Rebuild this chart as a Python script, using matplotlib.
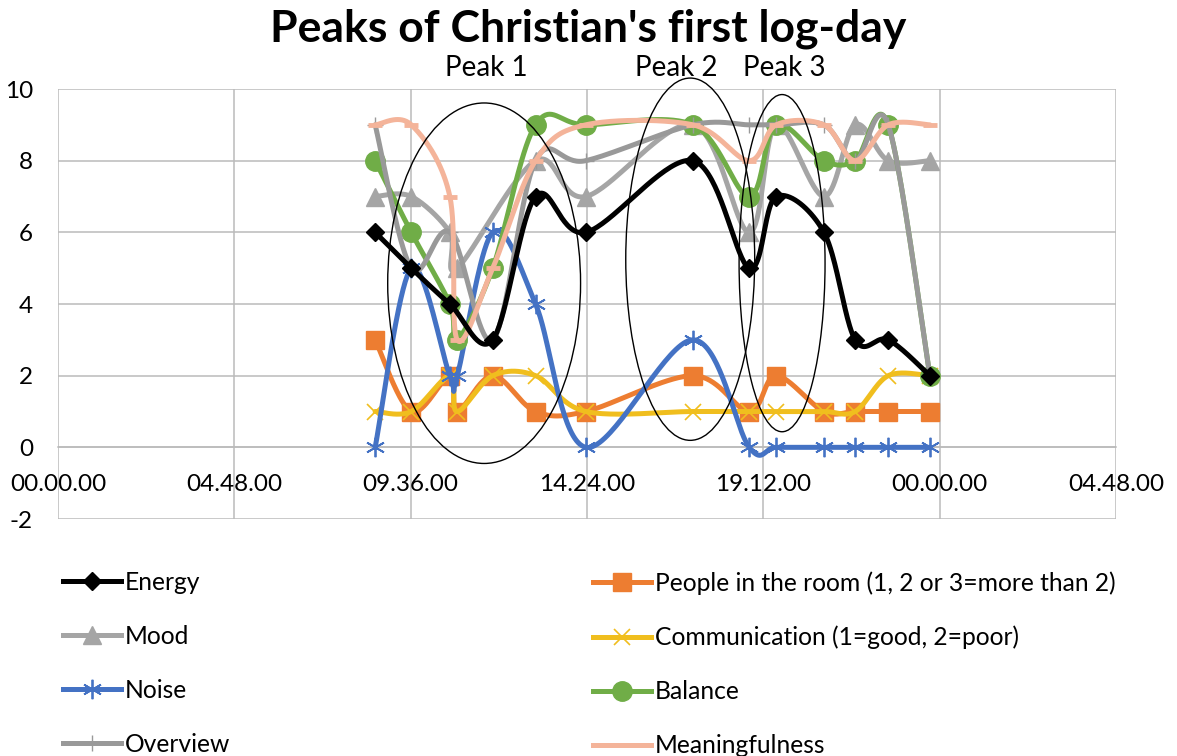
import numpy as np
import matplotlib
matplotlib.use("Agg")
import matplotlib.pyplot as plt
from matplotlib.lines import Line2D
from matplotlib.patches import Ellipse

plt.rcParams['font.family'] = ['Lato', 'DejaVu Sans']
plt.rcParams['axes.unicode_minus'] = False

# Tidspunkter for loggingen (tt:mm)
times = ["08:38", "09:37", "10:40", "10:52", "11:50", "13:00", "14:22",
         "17:17", "18:49", "19:33", "20:51", "21:42", "22:36", "23:44"]

nan = np.nan
energy = [6, 5, 4, nan, 3, 7, 6, 8, 5, 7, 6, 3, 3, 2]
people = [3, 1, 2, 1, 2, 1, 1, 2, 1, 2, 1, 1, 1, 1]
mood = [7, 7, 6, 5, nan, 8, 7, 9, 6, 9, 7, 9, 8, 8]
communication = [1, 1, 2, 1, 2, 2, 1, 1, 1, 1, 1, 1, 2, 2]
noise = [0, 5, 2, 2, 6, 4, 0, 3, 0, 0, 0, 0, 0, 0]
balance = [8, 6, 4, 3, 5, 9, 9, 9, 7, 9, 8, 8, 9, 2]
overview = [9, 5, 6, nan, 3, 8, 8, 9, 9, 9, 9, 8, 9, 2]
meaningfulness = [9, 9, 7, 3, 5, 8, 9, 9, 8, 9, 9, 8, 9, 9]

x_ticks = ["00.00.00", "04.48.00", "09.36.00", "14.24.00",
           "19.12.00", "00.00.00", "04.48.00"]

# ellipser: (x-senter, y-senter, bredde, høyde) i dataenheter
peak_names = ["Peak 1", "Peak 2", "Peak 3"]
peak_label_x = [11.65, 16.83, 19.77]
peak_ellipses = [(11.60, 4.58, 5.25, 10.06),
                 (17.21, 5.25, 3.51, 10.11),
                 (19.71, 5.14, 2.34, 9.41)]


def to_hours(t):
    h, m = t.split(":")
    return int(h) + int(m) / 60


def smooth(xs, ys, n=40):
    """Glatt kurve som i Excel (Catmull-Rom via Bezier)."""
    pts = np.column_stack([xs, ys])
    P = np.vstack([pts[0], pts, pts[-1]])
    out = []
    t = np.linspace(0, 1, n)[:, None]
    for i in range(1, len(P) - 2):
        p0, p1, p2, p3 = P[i - 1], P[i], P[i + 1], P[i + 2]
        c1 = p1 + (p2 - p0) / 6
        c2 = p2 - (p3 - p1) / 6
        seg = (1 - t) ** 3 * p1 + 3 * (1 - t) ** 2 * t * c1 \
            + 3 * (1 - t) * t ** 2 * c2 + t ** 3 * p2
        out.append(seg)
    out = np.vstack(out)
    return out[:, 0], out[:, 1]


hours = np.array([to_hours(t) for t in times])

series = [
    ("Energy", energy, "#000000", dict(marker="D", ms=9), 9),
    ("People in the room (1, 2 or 3=more than 2)", people, "#ED7D31", dict(marker="s", ms=13), 3),
    ("Mood", mood, "#A5A5A5", dict(marker="^", ms=13), 4),
    ("Communication (1=good, 2=poor)", communication, "#F0BE1E", dict(marker="x", ms=11, mew=1.2), 5),
    ("Noise", noise, "#4472C4", dict(marker=(6, 2, 0), ms=14, mew=1.3), 6),
    ("Balance", balance, "#70AD47", dict(marker="o", ms=14), 7),
    ("Overview", overview, "#999999", dict(marker="+", ms=12, mew=1), 8),
    ("Meaningfulness", meaningfulness, "#F4B49A", dict(marker="_", ms=10, mew=3.5), 8.5),
]

fig = plt.figure(figsize=(11.77, 7.56), dpi=100)
ax = fig.add_axes([58 / 1177, 1 - 519 / 756, (1116 - 58) / 1177, (519 - 89) / 756])

ax.set_xlim(0, 28.8)
ax.set_ylim(-2, 10)
ax.set_xticks(np.arange(0, 28.81, 4.8))
ax.set_xticklabels(x_ticks)
ax.set_yticks(np.arange(-2, 10.1, 2))
ax.grid(True, color="#BBBBBB", lw=1.1)
ax.set_axisbelow(True)
for s in ["top", "right", "left"]:
    ax.spines[s].set_visible(False)
ax.spines["bottom"].set_position(("data", 0))
ax.spines["bottom"].set_color("#BBBBBB")
ax.spines["bottom"].set_linewidth(1.1)
ax.tick_params(axis="both", length=0, labelsize=17.5)
ax.tick_params(axis="x", pad=19)
ax.tick_params(axis="y", pad=18)

handles = []
for label, vals, color, mk, z in series:
    v = np.array(vals, dtype=float)
    ok = ~np.isnan(v)
    sx, sy = smooth(hours[ok], v[ok])
    ax.plot(sx, sy, color=color, lw=3.6, zorder=z, solid_capstyle="round")
    ax.plot(hours[ok], v[ok], ls="none", color=color, mec=color, zorder=z + 0.1,
            clip_on=False, **mk)
    handles.append(Line2D([], [], color=color, lw=3.6, mec=color, **mk))

for name, lx, (cx, cy, w, h) in zip(peak_names, peak_label_x, peak_ellipses):
    ax.add_patch(Ellipse((cx, cy), w, h, fill=False, ec="black", lw=1,
                         zorder=12, clip_on=False))
    ax.text(lx, 10.6, name, ha="center", va="center", fontsize=20)

fig.text(0.5, 0.962, "Peaks of Christian's first log-day", ha="center",
         va="center", fontsize=32, fontweight="bold")

kw = dict(loc="upper left", frameon=False, fontsize=17.7, handlelength=2.35,
          handletextpad=0.16, labelspacing=1.26, borderpad=0, borderaxespad=0)
left_idx = (0, 2, 4, 6)
right_idx = (1, 3, 5, 7)
fig.legend([handles[i] for i in left_idx], [series[i][0] for i in left_idx],
           bbox_to_anchor=(63 / 1177, 1 - 571 / 756), **kw)
fig.legend([handles[i] for i in right_idx], [series[i][0] for i in right_idx],
           bbox_to_anchor=(593 / 1177, 1 - 571 / 756), **kw)

fig.savefig("out.png", dpi=100)
